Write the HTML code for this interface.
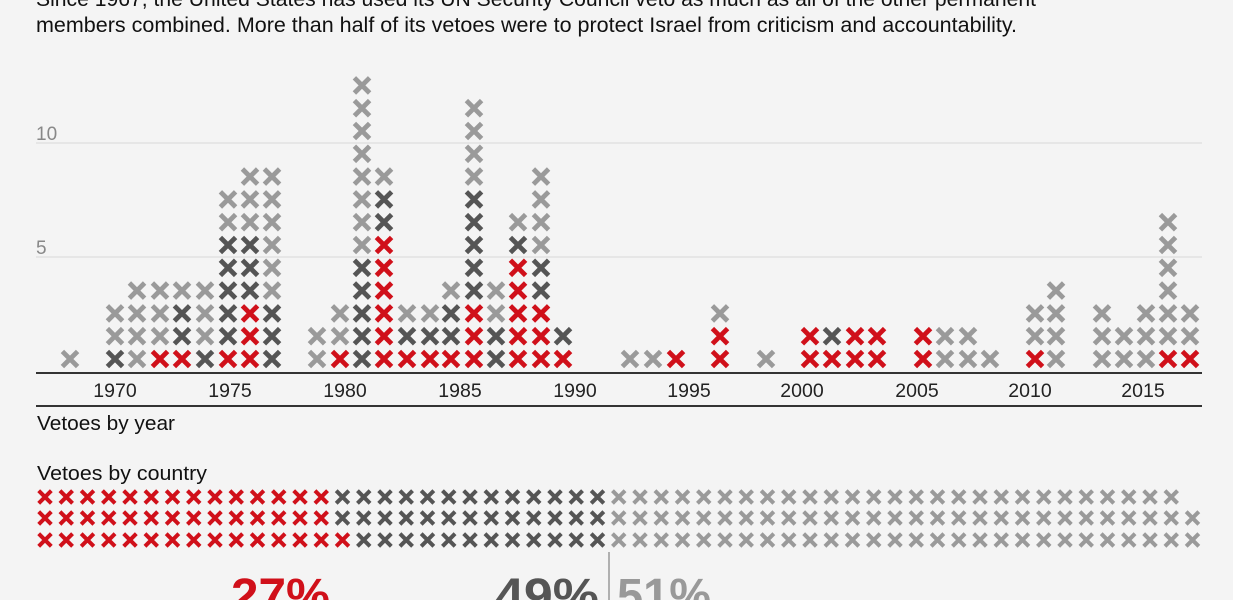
<!DOCTYPE html>
<html><head><meta charset="utf-8"><style>
html,body{margin:0;padding:0;background:#f4f4f4;width:1233px;height:600px;overflow:hidden}
svg{display:block;font-family:"Liberation Sans","DejaVu Sans",sans-serif}
</style></head><body>
<svg id="s" width="1233" height="600" viewBox="0 0 1233 600">
<rect width="1233" height="600" fill="#f4f4f4"/>
<text x="36" y="6" font-size="21.5" fill="#111" textLength="1000" lengthAdjust="spacingAndGlyphs">Since 1967, the United States has used its UN Security Council veto as much as all of the other permanent</text>
<text x="36" y="32" font-size="21.5" fill="#111" textLength="981" lengthAdjust="spacingAndGlyphs">members combined. More than half of its vetoes were to protect Israel from criticism and accountability.</text>
<line x1="36" y1="143" x2="1202" y2="143" stroke="#ddd" stroke-width="1.2"/>
<line x1="36" y1="257" x2="1202" y2="257" stroke="#ddd" stroke-width="1.2"/>
<text x="36" y="140" font-size="19" fill="#888">10</text>
<text x="36" y="254" font-size="19" fill="#888">5</text>
<g id="cols"></g>
<line x1="36" y1="373" x2="1202" y2="373" stroke="#333" stroke-width="2"/>
<g font-size="19.5" fill="#222" text-anchor="middle">
<text x="115" y="397">1970</text><text x="230" y="397">1975</text><text x="345" y="397">1980</text>
<text x="460" y="397">1985</text><text x="575" y="397">1990</text><text x="689" y="397">1995</text>
<text x="802" y="397">2000</text><text x="917" y="397">2005</text><text x="1030" y="397">2010</text>
<text x="1143" y="397">2015</text>
</g>
<line x1="36" y1="406" x2="1202" y2="406" stroke="#333" stroke-width="2"/>
<text x="37" y="430" font-size="20" fill="#111" textLength="138" lengthAdjust="spacingAndGlyphs">Vetoes by year</text>
<text x="37" y="480" font-size="20" fill="#111" textLength="170" lengthAdjust="spacingAndGlyphs">Vetoes by country</text>
<g id="ctry"></g>
<line x1="609" y1="552" x2="609" y2="600" stroke="#999" stroke-width="1.5"/>
<g font-size="48" font-weight="bold">
<text x="231" y="612" fill="#d0101a" textLength="99" lengthAdjust="spacingAndGlyphs">27%</text>
<text x="495" y="612" fill="#555" textLength="104" lengthAdjust="spacingAndGlyphs">49%</text>
<text x="617" y="612" fill="#999" textLength="94" lengthAdjust="spacingAndGlyphs">51%</text>
</g>
</svg>
<script>
var C={R:"#d0101a",D:"#555",L:"#9a9a9a"};
var data=[[70,"L"],[115,"DLL"],[137,"LLLL"],[160,"RLLL"],[182,"RDDL"],[205,"DLLL"],
[228,"RDDDDDLL"],[250,"RRRDDDLLL"],[272,"DDDLLLLLL"],[317,"LL"],[340,"RLL"],
[362,"DDDDDLLLLLLLL"],[384,"RRRRRRDDL"],[407,"RDL"],[430,"RDL"],[451,"RDDL"],
[474,"RRRDDDDDLLLL"],[496,"DDLL"],[518,"RRRRRDL"],[541,"RRRDDLLLL"],[563,"RD"],
[630,"L"],[653,"L"],[676,"R"],[720,"RRL"],[766,"L"],[810,"RR"],[832,"RD"],[855,"RR"],[877,"RR"],
[923,"RR"],[945,"LL"],[968,"LL"],[990,"L"],[1035,"RLL"],[1056,"LLLL"],[1102,"LLL"],[1124,"LL"],
[1146,"LLL"],[1168,"RLLLLLL"],[1190,"RLL"]];
function X(x,y,h,w,c){return '<path d="M'+(x-h)+' '+(y-h)+'L'+(x+h)+' '+(y+h)+'M'+(x+h)+' '+(y-h)+'L'+(x-h)+' '+(y+h)+'" stroke="'+c+'" stroke-width="'+w+'"/>';}
var s="";
data.forEach(function(d){for(var i=0;i<d[1].length;i++){s+=X(d[0],359-i*22.8,7.6,4.8,C[d[1][i]]);}});
document.getElementById("cols").innerHTML=s;
var rows=[[14,13,27],[14,13,28],[15,12,28]],ys=[497,518,540],t="";
rows.forEach(function(r,ri){var seq=[];for(var a=0;a<r[0];a++)seq.push("R");for(a=0;a<r[1];a++)seq.push("D");for(a=0;a<r[2];a++)seq.push("L");
seq.forEach(function(c,i){t+=X(45+i*21.25,ys[ri],6.3,4,C[c]);});});
document.getElementById("ctry").innerHTML=t;
</script>
</body></html>
